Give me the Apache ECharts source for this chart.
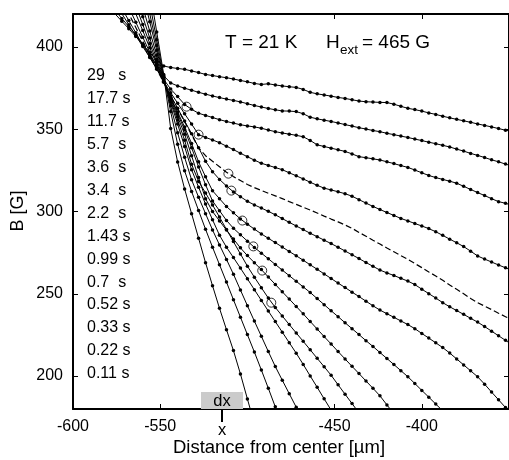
<!DOCTYPE html>
<html><head><meta charset="utf-8">
<script src="https://cdn.jsdelivr.net/npm/echarts@6/dist/echarts.min.js"></script>
<style>html,body{margin:0;padding:0;background:#fff}#c{width:509px;height:460px}</style>
</head><body><div id="c"></div>
<script>
const _ = null;
// shared x grid (µm)
const distance = [-584,-580,-576,-572,-568,-564,-560,-556,-552,-548,-544,-540,-536,-532,-528,-524,-520,-516,-512,-508,-504,-500,-496,-492,-488,-484,-480,-476,-472,-468,-464,-460,-456,-452,-448,-444,-440,-436,-432,-428,-424,-420,-416,-412,-408,-404,-400,-396,-392,-388,-384,-380,-376,-372,-368,-364,-360,-356,-352,-348];

// B (G) profiles for each time
const b011 = [_,_,_,_,_,_,_,435,409.1,383.3,350.5,330.1,313.7,298.7,283.8,268.9,254.9,241.2,228.2,215.5,201.3,186.1,171.1];
const b022 = [_,_,_,_,_,_,448.7,426.5,404.3,382.2,360.7,340.9,324.7,312.2,300.6,289.2,278.3,267.7,257.1,246.4,235.8,225.2,214.6,203.7,192.6,181.3,170.2];
const b033 = [_,_,_,_,_,_,439.6,420.2,400.8,381.4,364.2,347.8,332.9,319.3,308.7,298.7,288.8,279.7,270.9,261.9,252.3,242.8,233.4,224.2,214.9,205.8,197.5,189.3,181.1,172.8];
const b052 = [_,_,_,_,_,_,432.5,415.3,398,380.8,366.4,353.1,339.5,325.4,314.8,304.5,295,285.6,278.3,272,265.6,259.1,252.5,246,239.5,233.1,226.7,220.3,213.9,207.1,200.1,193.2,186.2,179.3,172.3];
const b070 = [_,_,_,_,_,439.2,424.4,409.6,394.9,380.1,367.4,355.6,343.3,328.7,318.3,311.3,304,296.6,289.1,281.7,274.2,266.8,260.1,253.7,247.4,241.7,236.5,231.3,226.2,221.1,216,210.8,205.7,200.5,194.7,189,183.3,177.6];
const b099 = [_,_,_,_,444.2,431.3,418.4,405.4,392.5,379.6,368.3,357.6,347,333.9,320.6,307.8,300,294.3,288.7,283.3,277.9,273.2,268.9,264.7,260.2,255.7,251.2,246.8,242.3,237.8,233.2,228.6,224,219.5,214.9,210.4,205.9,201.5,197,192.6,188,182.5,177.1];
const b143 = [_,_,_,_,436.6,425.1,413.6,402.1,390.6,379.1,368.9,359.3,349.6,338.8,327.1,316.3,306.4,300.5,294.6,289.8,285.9,282,278.2,274.7,271.3,267.8,264.4,261,257.6,254.2,250.8,247.1,243.4,239.7,236.1,232.4,228.8,225.2,221.5,218,214.3,210.7,207,203.3,199.6,195.5,191.3,187.2,183,178.9];
const b220 = [_,_,_,440.9,430.5,420.2,409.9,399.5,389.2,378.8,369.4,360.4,351.3,341.3,330.2,321.1,312.6,307.8,303,299.2,295.5,292.3,289.3,286.4,283.7,281.1,278.4,275.7,273.1,270.4,267.6,264.9,262.1,259.3,256.5,253.8,251,248.3,245.5,242.7,240.1,237.9,235.7,233.5,231.3,228.8,225.9,223.1,220.2,217.3,214,210.4,206.8,203.2,199.6,195.1,190.3,185.6,180.9,176.2];
const b340 = [_,_,_,433.3,424.1,415,405.9,396.7,387.6,378.5,370.4,362.7,355,347.3,338.8,330.6,324.2,319.5,315.5,311.9,309,306.2,304,302.1,300.1,298,295.7,293.4,291.2,289,286.8,284.7,282.6,280.5,278.3,276,273.7,271.4,269,266.7,264.4,262.7,261.1,259.4,257.7,255.6,252.8,250.1,247.4,244.6,242.1,239.8,237.5,235.1,232.8,230.1,227.3,224.5,221.7,218.9];
const b360 = [_,_,437.5,428.6,420.2,411.8,403.4,395.1,386.7,378.2,370.2,362.4,354.5,346.6,338.7,333.9,330.5,327.2,323.9,321.2,318.8,316.4,314.5,312.8,311.1,309.5,307.8,306,304.3,302.6,300.9,299.1,297.2,295.4,293.7,291.8,289.8,287.3,285,282.5,280.2,277.8,275.5,273.2,270.9,268.4,265.9,263.3,260.8,258.2,255.4,252.7,250,247.2,244.6,242.5,240.4,238.2,236.1,234];
const b570 = [_,_,430.8,423.4,416,408.6,401.2,393.8,386.4,379,372.2,365.8,359.4,353.1,346.7,345,343.5,341.8,339.7,337.6,335.4,333.3,331.2,329.3,328,326.7,325.4,323.5,321.7,319.8,317.8,315.9,314.2,313.1,312,310.8,309.3,307.2,305.1,303.1,301.2,299.4,297.6,295.8,294.3,292.7,291.2,289.6,287.7,285.5,283.2,281,278.7,275.9,273,271.1,269.3,267.5,265.8,264.1];
const b1170 = [_,433.5,426.9,420.2,413.5,406.9,400.2,393.6,386.9,380.3,374.4,369.8,365,362.1,359.7,358.4,357.1,355.8,354.7,353.7,352.7,352,351.4,350.6,349.5,348.5,347.7,347,346.3,345.4,343.2,340.5,339.5,338.5,337.5,336.5,335,333.3,332.7,332,331.3,330.2,329.1,327.9,326.8,325.2,323.5,321.9,320.6,319.5,318.4,317.2,315.3,313.4,311.5,309.7,307.8,306,305,303.6];
const b1770 = [432.3,427.4,422.3,417.3,412.3,407.3,401.7,395.3,388.9,382.5,378.1,376.3,374.9,373.7,372.4,371.3,370.2,369.2,368.3,367.5,366.6,365.5,364.4,363.5,362.6,361.8,361.1,361,360.7,359.4,357.3,356.3,355.5,354.7,353.8,352.8,351.9,350.9,350.1,349.2,348.5,347.5,346.7,345.8,345,344,343.1,342.1,341.2,340.2,339.2,337.9,336.7,335.3,334.1,332.8,331.4,330.2,328.8,327.6];
const b2900 = [429.3,424.8,420.2,415.6,411.1,406.3,401.5,396.6,391.8,388.4,387.5,386.9,386.4,385.4,384.4,383.3,382.6,381.9,381.3,380.5,379.6,378.8,377.8,377.2,377.6,376.9,376.3,375.8,375.4,374.2,372.4,371.5,370.8,370.1,369.3,368.7,367.9,367.1,366.7,366.5,366.3,366.2,365.2,363.9,362.7,361.9,361,359.9,359,357.9,356.9,356,355.1,354.2,353.2,352.3,351.4,350.4,349.4,348.5];

// open circles marking the fronts
const circleX = [-534.9,-528.0,-510.9,-509.2,-502.9,-496.6,-491.5,-486.3];
const circleB = [363.7,346.7,323.0,312.7,294.5,278.8,264.1,244.6];

const timeLabels = ['29   s','17.7 s','11.7 s','5.7  s','3.6  s','3.4  s','2.2  s','1.43 s','0.99 s','0.7  s','0.52 s','0.33 s','0.22 s','0.11 s'];
const xTickValues = [-600,-550,-450,-400];
const yTickValues = [200,250,300,350,400];

const curves = [
  {v:b2900, dashed:false},{v:b1770, dashed:false},{v:b1170, dashed:false},{v:b570, dashed:false},
  {v:b360, dashed:true},{v:b340, dashed:false},{v:b220, dashed:false},{v:b143, dashed:false},
  {v:b099, dashed:false},{v:b070, dashed:false},{v:b052, dashed:false},{v:b033, dashed:false},
  {v:b022, dashed:false},{v:b011, dashed:false}
];

const FF = "'Liberation Sans', Arial, Helvetica, sans-serif";
const chart = echarts.init(document.getElementById('c'), null, {renderer:'canvas'});

const series = curves.map(c => ({
  type:'line',
  data: distance.map((x,i)=>[x, c.v[i] === undefined ? null : c.v[i]]).filter(p=>p[1]!==null),
  xAxisIndex:0, yAxisIndex:0,
  clip:true,
  symbol: c.dashed ? 'none' : 'circle',
  symbolSize: 3.5,
  showAllSymbol: true,
  itemStyle:{color:'#000'},
  lineStyle:{color:'#000', width: c.dashed ? 1.2 : 1, type: c.dashed ? [6,3] : 'solid'},
  emphasis:{disabled:true},
  silent:true,
  z:2
}));
series.push({
  type:'scatter',
  data: circleX.map((x,i)=>[x, circleB[i]]),
  symbol:'circle', symbolSize:9,
  itemStyle:{color:'rgba(0,0,0,0)', borderColor:'#000', borderWidth:1},
  silent:true, z:5
});

const axisCommonX = {
  type:'value', min:-600, max:-350,
  axisLine:{onZero:false, lineStyle:{color:'#000', width:2}},
  axisTick:{inside:true, length:5, lineStyle:{color:'#000', width:1}, customValues:[-550,-450,-400]},
  splitLine:{show:false}
};
const axisCommonY = {
  type:'value', min:180, max:420,
  axisLine:{onZero:false, lineStyle:{color:'#000', width:2}},
  axisTick:{inside:true, length:5, lineStyle:{color:'#000', width:1}, customValues:yTickValues},
  splitLine:{show:false}
};

const graphics = [];
timeLabels.forEach((t,i)=>{
  graphics.push({type:'text', x:87, y:76 + i*22.9,
    style:{text:t, font:'16px '+FF, fill:'#000', textVerticalAlign:'middle', textAlign:'left'}, silent:true});
});
graphics.push(
  {type:'text', x:225, y:43, style:{text:'T = 21 K', font:'19px '+FF, fill:'#000', textVerticalAlign:'middle'}},
  {type:'text', x:326, y:43, style:{text:'H', font:'19px '+FF, fill:'#000', textVerticalAlign:'middle'}},
  {type:'text', x:340, y:50.5, style:{text:'ext', font:'13.5px '+FF, fill:'#000', textVerticalAlign:'middle'}},
  {type:'text', x:362, y:43, style:{text:'= 465 G', font:'19px '+FF, fill:'#000', textVerticalAlign:'middle'}},
  {type:'text', x:279, y:448, style:{text:'Distance from center [\u00b5m]', font:'18.5px '+FF, fill:'#000', textAlign:'center', textVerticalAlign:'middle'}},
  {type:'text', x:18, y:211, rotation:Math.PI/2, style:{text:'B [G]', font:'18px '+FF, fill:'#000', textAlign:'center', textVerticalAlign:'middle'}},
  {type:'rect', shape:{x:201, y:392, width:42, height:17}, style:{fill:'#cbcbcb'}, z:1},
  {type:'text', x:222, y:401, style:{text:'dx', font:'16.5px '+FF, fill:'#000', textAlign:'center', textVerticalAlign:'middle'}, z:3},
  {type:'line', shape:{x1:222, y1:409, x2:222, y2:422}, style:{stroke:'#000', lineWidth:2}},
  {type:'text', x:222, y:430, style:{text:'x', font:'16.5px '+FF, fill:'#000', textAlign:'center', textVerticalAlign:'middle'}}
);

chart.setOption({
  animation:false,
  backgroundColor:'#fff',
  grid:{left:73, right:-2, top:14, bottom:51, containLabel:false},
  xAxis:[
    Object.assign({}, axisCommonX, {position:'bottom',
      axisLabel:{customValues:xTickValues, color:'#000', fontSize:16, fontFamily:FF, margin:10}}),
    Object.assign({}, axisCommonX, {position:'top', axisLabel:{show:false}})
  ],
  yAxis:[
    Object.assign({}, axisCommonY, {position:'left',
      axisLabel:{customValues:yTickValues, color:'#000', fontSize:16, fontFamily:FF, margin:10}}),
    Object.assign({}, axisCommonY, {position:'right', axisLabel:{show:false}})
  ],
  series: series,
  graphic: graphics
});
</script>
</body></html>
